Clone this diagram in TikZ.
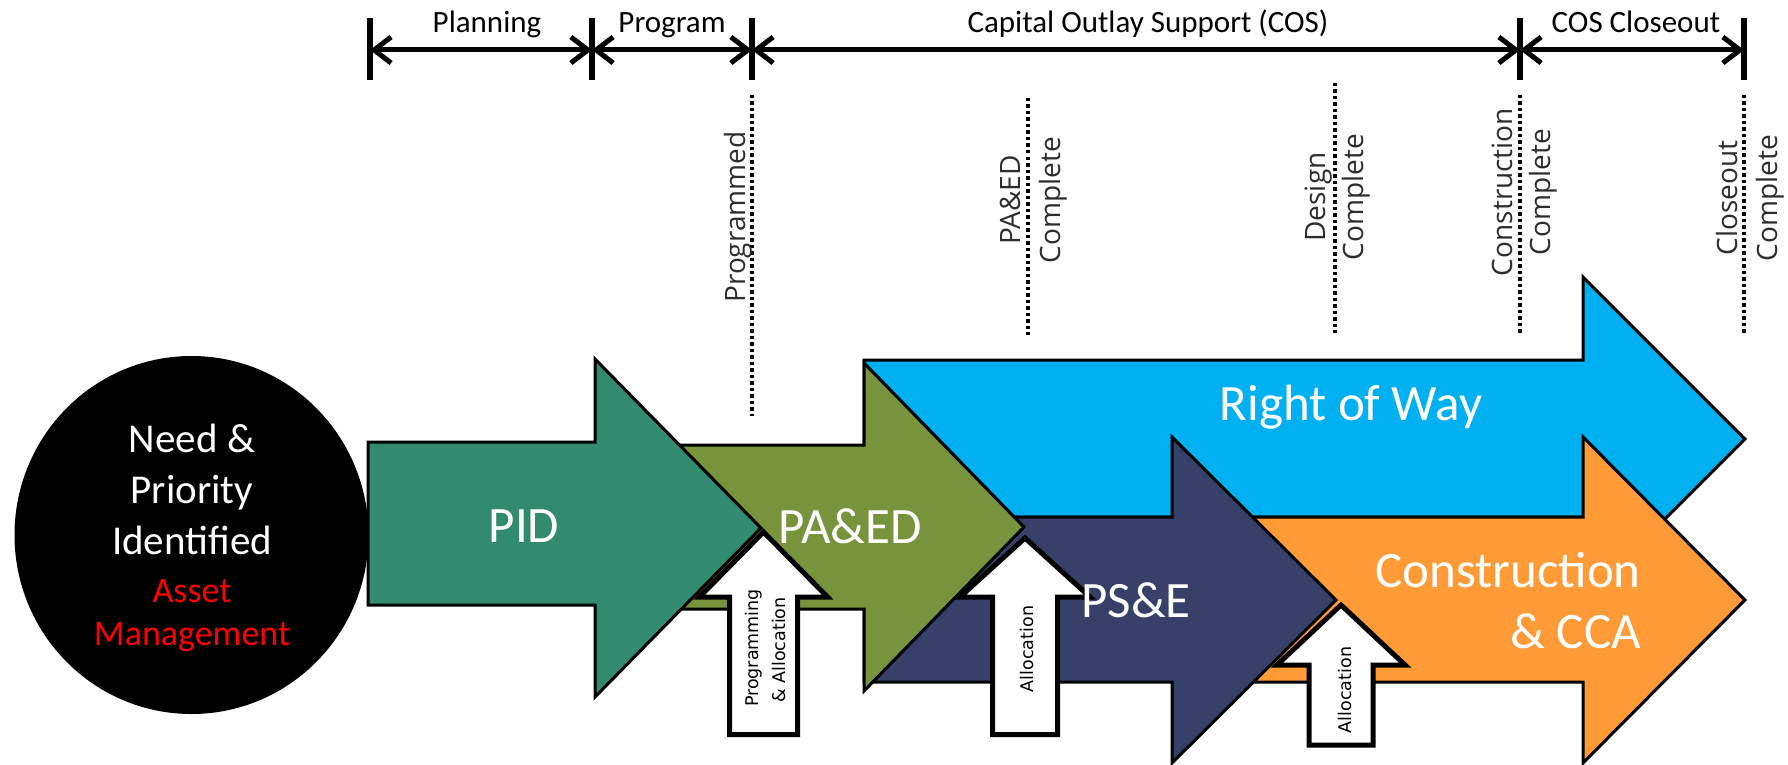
\documentclass[tikz,border=0pt]{standalone}
\usepackage{fontspec}
\setmainfont{Carlito}
\newfontfamily\osans{Open Sans}
\newfontfamily\dvsans{DejaVu Sans}
\usetikzlibrary{arrows.meta}
\definecolor{pidc}{RGB}{51,139,111}
\definecolor{paedc}{RGB}{119,147,60}
\definecolor{rowc}{RGB}{0,176,240}
\definecolor{psec}{RGB}{54,64,104}
\definecolor{conc}{RGB}{255,155,55}
\definecolor{msgray}{RGB}{45,45,45}
\begin{document}
\begin{tikzpicture}[x=1pt,y=-1pt,
  >={Straight Barb[length=17pt,width=26pt]},
  phase/.style={draw=black, line width=3pt, line join=miter},
  upbox/.style={draw=black, fill=white, line width=5pt, line join=miter},
  biglabel/.style={text=white, font=\fontsize{51}{61}\selectfont, inner sep=0pt, anchor=base},
  circwhite/.style={text=white, font=\fontsize{41}{50}\selectfont, inner sep=0pt, anchor=base},
  circred/.style={text=red, font=\fontsize{36}{44}\selectfont, inner sep=0pt, anchor=base},
  toplabel/.style={text=black, font=\fontsize{31}{37}\selectfont, inner sep=0pt, anchor=base},
  mslabel/.style={text=msgray, font=\osans\fontsize{28}{36}\selectfont, inner sep=0pt, anchor=base, rotate=90},
  uplabel/.style={text=black, font=\dvsans\fontsize{17.5}{24}\selectfont, inner sep=0pt, anchor=base, rotate=90},
  ticks/.style={line width=6pt},
  dimline/.style={<->, line width=5pt},
  msline/.style={line width=3.5pt, dash pattern=on 3.5pt off 3pt}]
\useasboundingbox (0,0) rectangle (1788,765);

% ---- timeline header ----
\coordinate (tA) at (370,50);
\coordinate (tB) at (592,50);
\coordinate (tC) at (752,50);
\coordinate (tD) at (1520,50);
\coordinate (tE) at (1744,50);
\foreach \x in {370,592,752,1520,1744} \draw[ticks] (\x,18) -- (\x,80);
\draw[dimline] (tA) -- (tB);
\draw[dimline] (tB) -- (tC);
\draw[dimline] (tC) -- (tD);
\draw[dimline] (tD) -- (tE);
\node[toplabel] (lplan) at (487,33) {Planning};
\node[toplabel] (lprog) at (672,33) {Program};
\node[toplabel] (lcos) at (1148,33) {Capital Outlay Support (COS)};
\node[toplabel] (lclose) at (1636,33) {COS Closeout};

% ---- milestones ----
\draw[msline] (752,95) -- (752,416);
\draw[msline] (1028,98) -- (1028,335);
\draw[msline] (1335,83) -- (1335,333);
\draw[msline] (1520,95) -- (1520,333);
\draw[msline] (1744,95) -- (1744,333);
\node[mslabel] (m1) at (745,217) {Programmed};
\node[mslabel] (m2a) at (1020,200) {PA\&ED};
\node[mslabel] (m2b) at (1060,200) {Complete};
\node[mslabel] (m3a) at (1325,197) {Design};
\node[mslabel] (m3b) at (1363,197) {Complete};
\node[mslabel] (m4a) at (1512,192) {Construction};
\node[mslabel] (m4b) at (1550,192) {Complete};
\node[mslabel] (m5a) at (1737,198) {Closeout};
\node[mslabel] (m5b) at (1777,198) {Complete};

% ---- phase arrows (back to front) ----
\path[phase, fill=rowc] (864,360) -- (1583,360) -- (1583,277) -- (1745,439) -- (1583,601) -- (1583,517) -- (864,517) -- cycle;
\path[phase, fill=conc] (1172,517) -- (1583,517) -- (1583,437) -- (1745,600) -- (1583,763) -- (1583,682) -- (1172,682) -- cycle;
\path[phase, fill=psec] (864,517) -- (1172,517) -- (1172,437) -- (1336,600) -- (1172,763) -- (1172,682) -- (864,682) -- cycle;
\path[phase, fill=paedc] (680,445) -- (864,445) -- (864,363) -- (1024,527) -- (864,691) -- (864,609) -- (680,609) -- cycle;
\path[phase, fill=pidc] (368,442) -- (595,442) -- (595,359) -- (761,528) -- (595,697) -- (595,605) -- (368,605) -- cycle;

% ---- start circle ----
\fill[black] (191.5,535) ellipse [x radius=177pt, y radius=179pt];
\node[circwhite] (c1) at (192,452) {Need \&};
\node[circwhite] (c2) at (192,503) {Priority};
\node[circwhite] (c3) at (192,554) {Identified};
\node[circred] (c4) at (192,602) {Asset};
\node[circred] (c5) at (192,645) {Management};

% ---- allocation arrows ----
\path[upbox] (763.5,532) -- (827.5,597) -- (797.5,597) -- (797.5,734.5) -- (729.5,734.5) -- (729.5,597) -- (699.5,597) -- cycle;
\path[upbox] (1025,538) -- (1090,597) -- (1057.5,597) -- (1057.5,734.5) -- (992.5,734.5) -- (992.5,597) -- (960,597) -- cycle;
\path[upbox] (1341,605) -- (1405,665) -- (1373,665) -- (1373,745) -- (1309,745) -- (1309,665) -- (1277,665) -- cycle;
\node[uplabel] (u1a) at (758,648) {Programming};
\node[uplabel] (u1b) at (785,650) {\& Allocation};
\node[uplabel] (u2) at (1033,649) {Allocation};
\node[uplabel] (u3) at (1351,690) {Allocation};

% ---- phase labels ----
\node[biglabel] (pid) at (524,542) {PID};
\node[biglabel] (paed) at (850,543) {PA\&ED};
\node[biglabel] (row) at (1351,420) {Right of Way};
\node[biglabel] (pse) at (1136,617) {PS\&E};
\node[biglabel, anchor=base east] (con1) at (1641,587) {Construction};
\node[biglabel, anchor=base east] (con2) at (1641,648) {\& CCA};
\end{tikzpicture}
\end{document}
